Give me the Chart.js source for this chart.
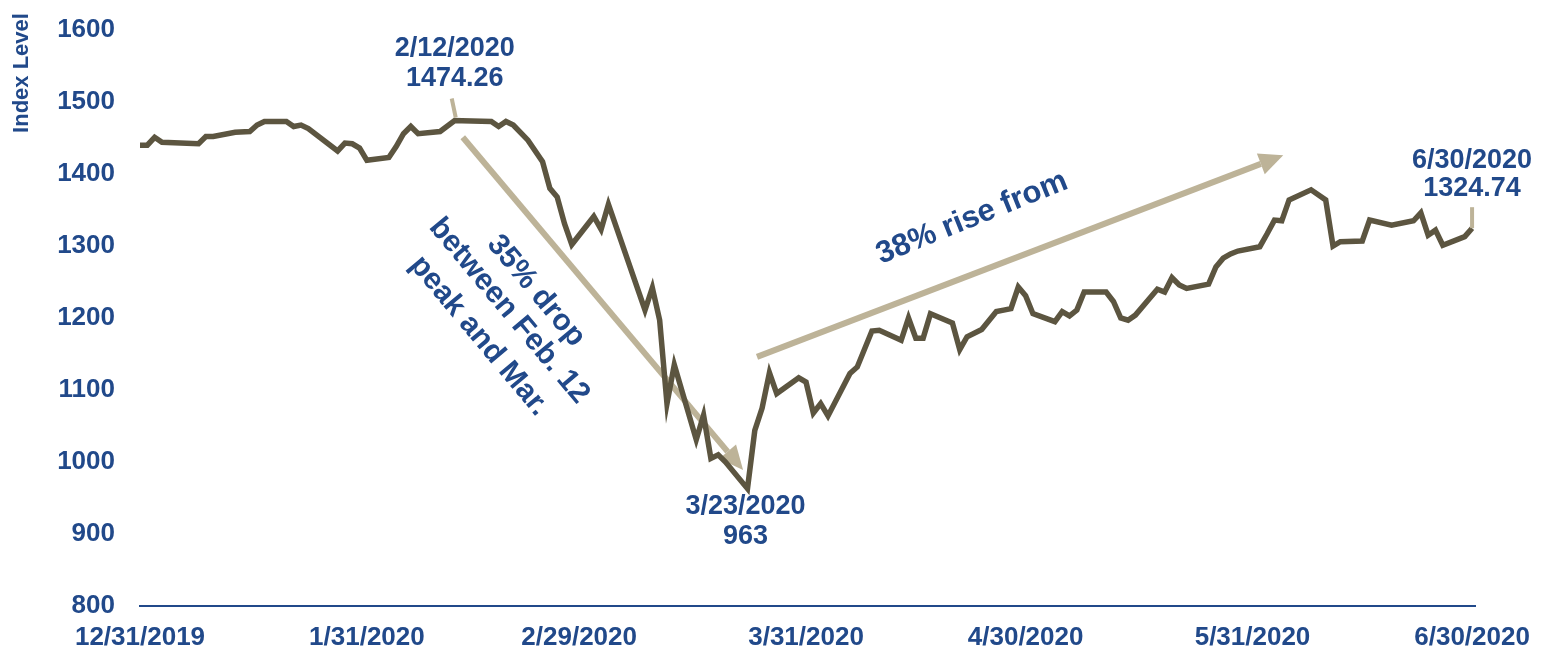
<!DOCTYPE html>
<html lang="en">
<head>
  <meta charset="utf-8">
  <title>Index Level, 12/31/2019 - 6/30/2020</title>
  <script src="https://cdn.jsdelivr.net/npm/chart.js"></script>
  <style>
    body { margin: 0; background: #fff; }
  </style>
</head>
<body>
  <canvas id="indexChart" width="1548" height="651"></canvas>
<script>
  // index closes (trading days, approximate)
  const dates = [
    '12/31/2019', '1/1/2020', '1/2/2020', '1/3/2020', '1/8/2020', '1/9/2020', '1/10/2020',
    '1/13/2020', '1/15/2020', '1/16/2020', '1/17/2020', '1/20/2020', '1/21/2020', '1/22/2020',
    '1/23/2020', '1/27/2020', '1/28/2020', '1/29/2020', '1/30/2020', '1/31/2020',
    '2/3/2020', '2/4/2020', '2/5/2020', '2/6/2020', '2/7/2020', '2/10/2020', '2/12/2020',
    '2/13/2020', '2/17/2020', '2/18/2020', '2/19/2020', '2/20/2020', '2/22/2020', '2/24/2020',
    '2/25/2020', '2/26/2020', '2/27/2020', '2/28/2020',
    '3/2/2020', '3/3/2020', '3/4/2020', '3/9/2020', '3/10/2020', '3/11/2020', '3/12/2020',
    '3/13/2020', '3/16/2020', '3/17/2020', '3/18/2020', '3/19/2020', '3/20/2020', '3/23/2020',
    '3/24/2020', '3/25/2020', '3/26/2020', '3/27/2020', '3/30/2020', '3/31/2020',
    '4/1/2020', '4/2/2020', '4/3/2020', '4/6/2020', '4/7/2020', '4/9/2020', '4/10/2020',
    '4/13/2020', '4/14/2020', '4/15/2020', '4/16/2020', '4/17/2020', '4/20/2020', '4/21/2020',
    '4/22/2020', '4/24/2020', '4/26/2020', '4/27/2020', '4/28/2020', '4/29/2020', '4/30/2020',
    '5/1/2020', '5/4/2020', '5/5/2020', '5/6/2020', '5/7/2020', '5/8/2020', '5/11/2020',
    '5/12/2020', '5/13/2020', '5/14/2020', '5/15/2020', '5/18/2020', '5/19/2020', '5/20/2020',
    '5/21/2020', '5/22/2020', '5/25/2020', '5/26/2020', '5/27/2020', '5/28/2020', '5/29/2020',
    '6/1/2020', '6/2/2020', '6/3/2020', '6/4/2020', '6/5/2020', '6/8/2020', '6/10/2020',
    '6/11/2020', '6/12/2020', '6/15/2020', '6/16/2020', '6/19/2020', '6/22/2020', '6/23/2020',
    '6/24/2020', '6/25/2020', '6/26/2020', '6/29/2020', '6/30/2020'
  ];

  const levels = [
    1440, 1440, 1451, 1444, 1442, 1452, 1452,
    1458, 1459, 1468, 1473, 1473, 1466, 1468,
    1463, 1432, 1443, 1442, 1436, 1419,
    1423, 1438, 1456, 1466, 1456, 1459, 1474.26,
    1474, 1473, 1466, 1473, 1468, 1447, 1417,
    1380, 1368, 1331, 1302,
    1341, 1323, 1358, 1211, 1242, 1197, 1081,
    1135, 1031, 1065, 1005, 1010, 1000, 963,
    1044, 1075, 1124, 1095, 1117, 1111,
    1068, 1081, 1064, 1123, 1132, 1182, 1183,
    1169, 1200, 1172, 1172, 1206, 1193, 1156,
    1174, 1184, 1209, 1211, 1213, 1243, 1231,
    1206, 1195, 1209, 1203, 1211, 1236, 1236,
    1223, 1200, 1197, 1204, 1240, 1236, 1256,
    1246, 1241, 1247, 1271, 1283, 1289, 1293,
    1299, 1317, 1336, 1335, 1364, 1378, 1364,
    1300, 1306, 1307, 1336, 1329, 1335, 1346,
    1315, 1322, 1301, 1313, 1324.74
  ];

  const tickDates = ['12/31/2019', '1/31/2020', '2/29/2020', '3/31/2020', '4/30/2020', '5/31/2020', '6/30/2020'];

  const NAVY = '#21498a';
  const LINE = '#5c5540';
  const TAN = '#bdb398';
  const FONT = "'Liberation Sans', Arial, sans-serif";

  // days since 12/31/2019 so the x axis runs on calendar time
  function dayOf(s) {
    const p = s.split('/').map(Number);
    return Math.round((Date.UTC(p[2], p[0] - 1, p[1]) - Date.UTC(2019, 11, 31)) / 86400000);
  }

  const points = dates.map((d, i) => ({ x: dayOf(d), y: levels[i] }));

  function arrow(ctx, x1, y1, x2, y2) {
    const ang = Math.atan2(y2 - y1, x2 - x1);
    const headLen = 24, headW = 11;
    const bx = x2 - Math.cos(ang) * headLen;
    const by = y2 - Math.sin(ang) * headLen;
    ctx.save();
    ctx.strokeStyle = TAN;
    ctx.fillStyle = TAN;
    ctx.lineWidth = 6;
    ctx.beginPath();
    ctx.moveTo(x1, y1);
    ctx.lineTo(bx, by);
    ctx.stroke();
    ctx.beginPath();
    ctx.moveTo(x2, y2);
    ctx.lineTo(bx + Math.sin(ang) * headW, by - Math.cos(ang) * headW);
    ctx.lineTo(bx - Math.sin(ang) * headW, by + Math.cos(ang) * headW);
    ctx.closePath();
    ctx.fill();
    ctx.restore();
  }

  function text(ctx, str, x, y, size, rot) {
    ctx.save();
    ctx.translate(x, y);
    if (rot) ctx.rotate(rot * Math.PI / 180);
    ctx.font = 'bold ' + size + 'px ' + FONT;
    ctx.fillStyle = NAVY;
    ctx.textAlign = 'center';
    ctx.textBaseline = 'middle';
    ctx.fillText(str, 0, 0);
    ctx.restore();
  }

  function leader(ctx, x1, y1, x2, y2) {
    ctx.save();
    ctx.strokeStyle = TAN;
    ctx.lineWidth = 4;
    ctx.beginPath();
    ctx.moveTo(x1, y1);
    ctx.lineTo(x2, y2);
    ctx.stroke();
    ctx.restore();
  }

  const notes = {
    id: 'notes',
    beforeDatasetsDraw(chart) {
      const ctx = chart.ctx, xs = chart.scales.x, ys = chart.scales.y;
      // drop arrow and rise arrow, placed in data units
      arrow(ctx, xs.getPixelForValue(44.1), ys.getPixelForValue(1451),
                 xs.getPixelForValue(82.4), ys.getPixelForValue(989));
      arrow(ctx, xs.getPixelForValue(84.3), ys.getPixelForValue(1146),
                 xs.getPixelForValue(156.2), ys.getPixelForValue(1426));
    },
    afterDatasetsDraw(chart) {
      const ctx = chart.ctx, xs = chart.scales.x, ys = chart.scales.y;
      const at = (d, v) => ({ x: xs.getPixelForValue(dayOf(d)), y: ys.getPixelForValue(v) });

      const peak = at('2/12/2020', 1474.26);
      leader(ctx, peak.x - 3, peak.y - 22, peak.x + 1, peak.y - 3);
      text(ctx, '2/12/2020', peak.x, peak.y - 72, 27);
      text(ctx, '1474.26', peak.x, peak.y - 42, 27);

      const low = at('3/23/2020', 963);
      text(ctx, '3/23/2020', low.x - 2, low.y + 18, 27);
      text(ctx, '963', low.x - 2, low.y + 48, 27);

      const last = at('6/30/2020', 1324.74);
      leader(ctx, last.x, last.y - 21, last.x, last.y);
      text(ctx, '6/30/2020', last.x, last.y - 68, 27);
      text(ctx, '1324.74', last.x, last.y - 40, 27);

      text(ctx, '38% rise from', 972, 218, 31, -22);
      text(ctx, '35% drop', 536, 291, 30, 50);
      text(ctx, 'between Feb. 12', 509, 311, 30, 50);
      text(ctx, 'peak and Mar.', 479, 336, 30, 50);

      text(ctx, 'Index Level', 22, 73, 22, -90);
    }
  };

  const config = {
    type: 'line',
    data: {
      datasets: [{
        data: points,
        borderColor: LINE,
        borderWidth: 5.5,
        pointRadius: 0,
        tension: 0,
        fill: false
      }]
    },
    options: {
      responsive: false,
      animation: false,
      layout: { padding: { top: 30, right: 73, left: 0, bottom: 0 } },
      plugins: { legend: { display: false }, tooltip: { enabled: false } },
      scales: {
        x: {
          type: 'linear',
          min: 0,
          max: 182.4,
          grid: { display: false, drawTicks: false },
          border: { display: true, color: NAVY, width: 2 },
          afterBuildTicks(scale) {
            scale.ticks = tickDates.map(s => ({ value: dayOf(s) }));
          },
          afterFit(scale) { scale.height = 45; },
          ticks: {
            autoSkip: false,
            maxRotation: 0,
            padding: 16,
            color: NAVY,
            font: { family: FONT, size: 26, weight: 'bold' },
            callback: (v, i) => tickDates[i]
          }
        },
        y: {
          min: 800,
          max: 1600,
          // tick length (not drawn) + padding keep labels 25px off the plot
          // without the big tick padding pushing the plot top down
          grid: { display: false, drawTicks: true, tickLength: 11 },
          border: { display: false },
          afterFit(scale) { scale.width = 140; },
          ticks: {
            stepSize: 100,
            padding: 14,
            color: NAVY,
            font: { family: FONT, size: 26, weight: 'bold' },
            callback: v => String(v)
          }
        }
      }
    },
    plugins: [notes]
  };

  const myChart = new Chart(document.getElementById('indexChart'), config);
</script>
</body>
</html>
